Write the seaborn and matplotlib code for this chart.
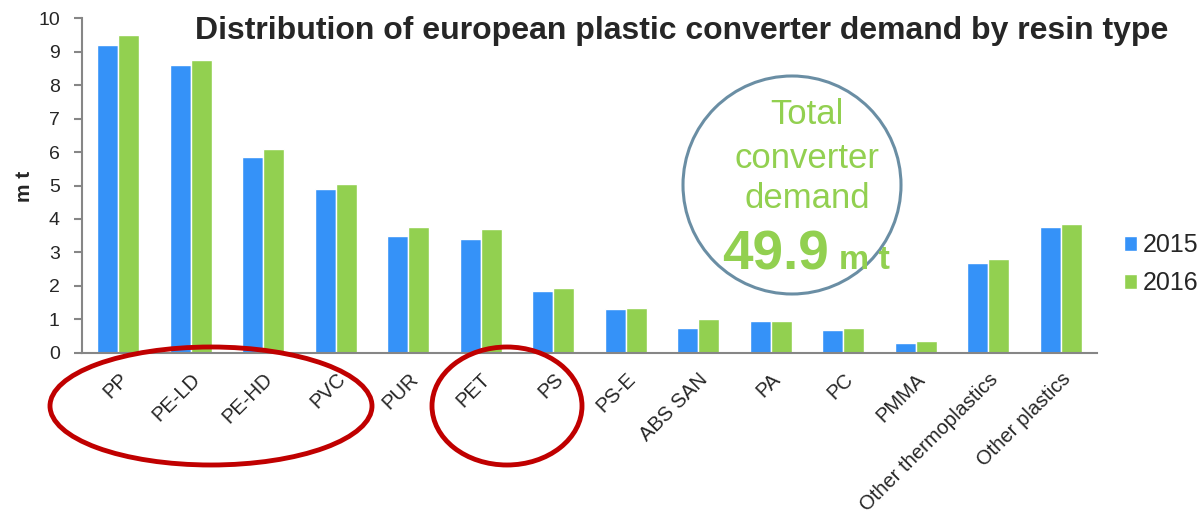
import matplotlib
matplotlib.use("Agg")
import matplotlib.pyplot as plt
from matplotlib.patches import Ellipse
import seaborn as sns
import pandas as pd

resins = ["PP", "PE-LD", "PE-HD", "PVC", "PUR", "PET", "PS", "PS-E", "ABS SAN",
          "PA", "PC", "PMMA", "Other thermoplastics", "Other plastics"]
years = ["2015", "2016"]
values_2015 = [9.2, 8.6, 5.85, 4.9, 3.5, 3.4, 1.85, 1.3, 0.75, 0.95, 0.7, 0.3, 2.7, 3.75]
values_2016 = [9.5, 8.75, 6.1, 5.05, 3.75, 3.7, 1.95, 1.35, 1.0, 0.95, 0.75, 0.35, 2.8, 3.85]
y_ticks = [0, 1, 2, 3, 4, 5, 6, 7, 8, 9, 10]

df = pd.DataFrame({
    "resin": resins * 2,
    "year": [years[0]] * len(resins) + [years[1]] * len(resins),
    "value": values_2015 + values_2016,
})

sns.set_style("white")
plt.rcParams["font.family"] = ["Liberation Sans", "DejaVu Sans"]

BLUE = "#3592F8"
GREEN = "#92D050"
GRAY = "#868686"

fig = plt.figure(figsize=(12.02, 5.15), dpi=100)
ax = fig.add_axes([0.0682, 0.3146, 0.8444, 0.6504])

sns.barplot(data=df, x="resin", y="value", hue="year", order=resins, hue_order=years,
            palette=[BLUE, GREEN], width=0.58, saturation=1, ax=ax, errorbar=None)

ax.set_xlim(-0.5, len(resins) - 0.5)
ax.set_ylim(0, 10)
ax.set_yticks(y_ticks)
ax.set_yticklabels([str(t) for t in y_ticks], fontsize=14)
ax.set_xlabel("")
ax.set_ylabel("")
fig.text(25 / 1202, 1 - 186 / 515, "m t", rotation=90, ha="center", va="center",
         fontsize=15, fontweight="bold")

for s in ["top", "right"]:
    ax.spines[s].set_visible(False)
for s in ["left", "bottom"]:
    ax.spines[s].set_color(GRAY)
    ax.spines[s].set_linewidth(1.5)

ax.set_xticks(range(len(resins)))
ax.set_xticklabels(resins, rotation=45, ha="right", rotation_mode="anchor", fontsize=14.5)
ax.tick_params(axis="x", which="major", length=0, pad=12)
ax.set_xticks([i - 0.5 for i in range(len(resins) + 1)], minor=True)
ax.tick_params(axis="x", which="minor", length=6, width=1.5, color=GRAY, direction="out")
ax.tick_params(axis="y", length=6, width=1.5, color=GRAY, direction="out", left=True, pad=10)

leg = ax.legend(loc="center left", bbox_to_anchor=(1.009, 0.265), frameon=False,
                fontsize=18, handlelength=0.55, handleheight=0.55, handletextpad=0.2,
                labelspacing=0.55, borderaxespad=0.3)

fig.text(682 / 1202, 1 - 31 / 515, "Distribution of european plastic converter demand by resin type",
         ha="center", va="center", fontsize=23, fontweight="bold")

# circle annotation
circ = Ellipse((792 / 1202, 1 - 185 / 515), 218 / 1202, 218 / 515, transform=fig.transFigure,
               fill=False, edgecolor="#6A8EA4", linewidth=2.2, clip_on=False)
fig.add_artist(circ)
fig.text(807 / 1202, 1 - 115 / 515, "Total", ha="center", va="center", fontsize=25, color=GREEN)
fig.text(807 / 1202, 1 - 158 / 515, "converter", ha="center", va="center", fontsize=25, color=GREEN)
fig.text(807 / 1202, 1 - 198 / 515, "demand", ha="center", va="center", fontsize=25, color=GREEN)
fig.text(722 / 1202, 1 - 270 / 515, "49.9", ha="left", va="baseline", fontsize=39.5,
         fontweight="bold", color=GREEN)
fig.text(839 / 1202, 1 - 269 / 515, "m t", ha="left", va="baseline", fontsize=24.5,
         fontweight="bold", color=GREEN)

# red ellipses
for cx, w in [(211, 322), (507, 150)]:
    e = Ellipse((cx / 1202, 1 - 406 / 515), w / 1202, 118 / 515, transform=fig.transFigure,
                fill=False, edgecolor="#C00000", linewidth=3.5, clip_on=False)
    fig.add_artist(e)

fig.savefig("out.png", dpi=100)
